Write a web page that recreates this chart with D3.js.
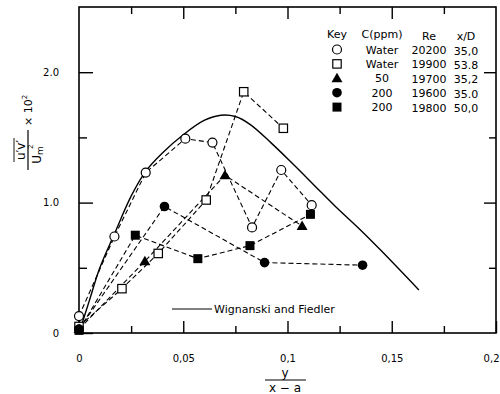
<!DOCTYPE html>
<html><head><meta charset="utf-8">
<script src="https://cdn.jsdelivr.net/npm/d3@7"></script>
<style>
html,body{margin:0;padding:0;background:#fff;}
svg{display:block;font-family:"DejaVu Sans",sans-serif;}
</style></head>
<body><svg id="c" width="500" height="394"></svg>
<script>
// ---- data ----
const xMajorTicks = [0, 0.05, 0.1, 0.15, 0.2];
const xMajorLabels = ["0", "0,05", "0,1", "0,15", "0,2"];
const xMinorTicks = [0.025, 0.075, 0.125, 0.175];
const yMajorTicks = [0, 1, 2];
const yMajorLabels = ["0", "1.0", "2.0"];
const yMinorTicks = [0.5, 1.5];

const waterA = [[0,0.13],[0.017,0.74],[0.032,1.23],[0.051,1.49],[0.064,1.46],[0.083,0.81],[0.097,1.25],[0.1116,0.98]];
const waterB = [[0,0.05],[0.0206,0.34],[0.038,0.61],[0.061,1.02],[0.079,1.85],[0.098,1.57]];
const ppm50 = [[0,0.03],[0.0316,0.55],[0.070,1.21],[0.107,0.82]];
const ppm200a = [[0,0.03],[0.041,0.97],[0.089,0.54],[0.136,0.52]];
const ppm200b = [[0,0.02],[0.027,0.75],[0.057,0.57],[0.082,0.67],[0.111,0.91]];
const wygnanski = [[0,0],[0.005,0.25],[0.01,0.5],[0.017,0.76],[0.025,1.05],[0.032,1.24],[0.04,1.38],[0.05,1.52],[0.06,1.63],[0.068,1.67],[0.075,1.66],[0.082,1.6],[0.092,1.46],[0.103,1.29],[0.113,1.13],[0.123,0.97],[0.135,0.79],[0.145,0.63],[0.163,0.33]];

const legendKeys = ["circleOpen","squareOpen","triangle","circleFilled","squareFilled"];
const legendC = ["Water","Water","50","200","200"];
const legendRe = ["20200","19900","19700","19600","19800"];
const legendXD = ["35,0","53.8","35,2","35.0","50,0"];
const legendHeader = ["Key","C(ppm)","Re","x/D"];

// ---- setup ----
const svg = d3.select("#c");
const X0=79, X1=496, Y0=333, Y1=7;
const x = d3.scaleLinear().domain([0,0.2]).range([X0,X1]);
const y = d3.scaleLinear().domain([0,2.5]).range([Y0,Y1]);

// frame
svg.append("rect").attr("x",X0).attr("y",Y1).attr("width",X1-X0).attr("height",Y0-Y1)
  .attr("fill","none").attr("stroke","#000").attr("stroke-width",1.6);

function styleAxis(g){ g.select(".domain").remove(); g.selectAll("line").attr("stroke","#000").attr("stroke-width",1.4);
  g.selectAll("text").attr("font-family","DejaVu Sans").attr("font-size",10).attr("fill","#000"); }

// bottom major
const bx = svg.append("g").attr("transform",`translate(0,${Y0})`)
  .call(d3.axisBottom(x).tickValues(xMajorTicks).tickSizeInner(-12).tickSizeOuter(0).tickPadding(22)
    .tickFormat((d,i)=>xMajorLabels[i])).call(styleAxis);
// keep the last label inside the page
bx.selectAll(".tick").filter(d=>d===0.2).select("text").attr("text-anchor","end").attr("x",3);
svg.append("g").attr("transform",`translate(0,${Y0})`)
  .call(d3.axisBottom(x).tickValues(xMinorTicks).tickSizeInner(-7).tickSizeOuter(0).tickFormat("")).call(styleAxis);
// top
svg.append("g").attr("transform",`translate(0,${Y1})`)
  .call(d3.axisTop(x).tickValues(xMajorTicks.slice(1,4)).tickSizeInner(-12).tickSizeOuter(0).tickFormat("")).call(styleAxis);
svg.append("g").attr("transform",`translate(0,${Y1})`)
  .call(d3.axisTop(x).tickValues(xMinorTicks).tickSizeInner(-7).tickSizeOuter(0).tickFormat("")).call(styleAxis);
// left
svg.append("g").attr("transform",`translate(${X0},0)`)
  .call(d3.axisLeft(y).tickValues(yMajorTicks).tickSizeInner(-14).tickSizeOuter(0).tickPadding(20)
    .tickFormat((d,i)=>yMajorLabels[i])).call(styleAxis);
svg.append("g").attr("transform",`translate(${X0},0)`)
  .call(d3.axisLeft(y).tickValues(yMinorTicks).tickSizeInner(-8).tickSizeOuter(0).tickFormat("")).call(styleAxis);
// right
svg.append("g").attr("transform",`translate(${X1},0)`)
  .call(d3.axisRight(y).tickValues([1,2]).tickSizeInner(-12).tickSizeOuter(0).tickFormat("")).call(styleAxis);
svg.append("g").attr("transform",`translate(${X1},0)`)
  .call(d3.axisRight(y).tickValues(yMinorTicks).tickSizeInner(-7).tickSizeOuter(0).tickFormat("")).call(styleAxis);

// solid curve
const line = d3.line().x(d=>x(d[0])).y(d=>y(d[1])).curve(d3.curveCatmullRom.alpha(0.5));
svg.append("path").datum(wygnanski).attr("d", line)
  .attr("fill","none").attr("stroke","#000").attr("stroke-width",1.4);

// dashed series
const dline = d3.line().x(d=>x(d[0])).y(d=>y(d[1]));
const series = [
  {data:waterA, key:"circleOpen"},
  {data:waterB, key:"squareOpen"},
  {data:ppm50, key:"triangle"},
  {data:ppm200a, key:"circleFilled"},
  {data:ppm200b, key:"squareFilled"}
];
series.forEach(s=>{
  svg.append("path").datum(s.data).attr("d",dline).attr("fill","none")
    .attr("stroke","#000").attr("stroke-width",1.1).attr("stroke-dasharray","5,3");
});

function marker(g, key, cx, cy){
  if(key==="circleOpen") g.append("circle").attr("cx",cx).attr("cy",cy).attr("r",4.5).attr("fill","#fff").attr("stroke","#000").attr("stroke-width",1.2);
  else if(key==="circleFilled") g.append("circle").attr("cx",cx).attr("cy",cy).attr("r",4.8).attr("fill","#000");
  else if(key==="squareOpen") g.append("rect").attr("x",cx-4.2).attr("y",cy-4.2).attr("width",8.4).attr("height",8.4).attr("fill","#fff").attr("stroke","#000").attr("stroke-width",1.2);
  else if(key==="squareFilled") g.append("rect").attr("x",cx-4.5).attr("y",cy-4.5).attr("width",9).attr("height",9).attr("fill","#000");
  else if(key==="triangle") g.append("path").attr("d",`M${cx},${cy-5.5}L${cx+5.5},${cy+4}L${cx-5.5},${cy+4}Z`).attr("fill","#000");
}
const mg = svg.append("g");
series.forEach(s=> s.data.forEach(d=> marker(mg, s.key, x(d[0]), y(d[1]))));

// legend table
const lg = svg.append("g").attr("font-family","DejaVu Sans").attr("font-size",11).attr("fill","#000");
const colX = [337, 382, 429, 466];
legendHeader.forEach((t,i)=> lg.append("text").attr("x",colX[i]).attr("y",38+(i>=2?1.5:0)).attr("text-anchor","middle").text(t));
legendKeys.forEach((k,i)=>{
  const yy = 49.5 + i*14.4;
  marker(lg, k, colX[0], yy);
  lg.append("text").attr("x",colX[1]).attr("y",yy+4).attr("text-anchor","middle").text(legendC[i]);
  lg.append("text").attr("x",colX[2]).attr("y",yy+4.5).attr("text-anchor","middle").text(legendRe[i]);
  lg.append("text").attr("x",colX[3]).attr("y",yy+5).attr("text-anchor","middle").text(legendXD[i]);
});

// curve legend
svg.append("line").attr("x1",172).attr("x2",212).attr("y1",309).attr("y2",309).attr("stroke","#000").attr("stroke-width",1);
svg.append("text").attr("x",214).attr("y",313).attr("font-size",11).text("Wignanski and Fiedler");

// x axis label
const xl = svg.append("g").attr("font-size",12).attr("text-anchor","middle");
xl.append("text").attr("x",285).attr("y",377).text("y");
xl.append("line").attr("x1",265).attr("x2",306).attr("y1",380).attr("y2",380).attr("stroke","#000").attr("stroke-width",1.2);
xl.append("text").attr("x",285).attr("y",392).text("x − a");

// y axis label (rotated)
const yl = svg.append("g").attr("transform","translate(28,150) rotate(-90)").attr("font-size",12);
yl.append("line").attr("x1",-20).attr("x2",20).attr("y1",0).attr("y2",0).attr("stroke","#000").attr("stroke-width",1.2);
yl.append("text").attr("x",0).attr("y",-3).attr("text-anchor","middle").text("u′v′");
yl.append("line").attr("x1",-12).attr("x2",12).attr("y1",-14).attr("y2",-14).attr("stroke","#000").attr("stroke-width",0.9);
const den = yl.append("text").attr("x",-5).attr("y",13).attr("text-anchor","middle");
den.append("tspan").text("U");
den.append("tspan").attr("font-size",9).attr("dy",2).text("m");
yl.append("text").attr("x",1).attr("y",5).attr("font-size",7).text("2");
const xt = yl.append("text").attr("x",24).attr("y",4).attr("font-size",11);
xt.append("tspan").text("× 10");
xt.append("tspan").attr("font-size",7).attr("dy",-5).text("2");
</script></body></html>
